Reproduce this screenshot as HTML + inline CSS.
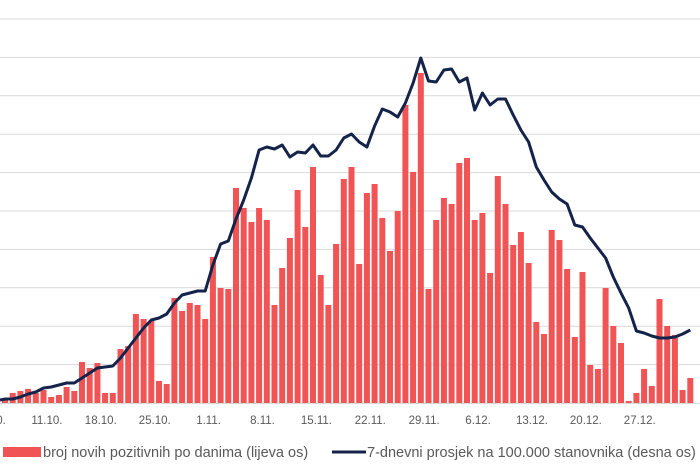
<!DOCTYPE html>
<html><head><meta charset="utf-8"><style>
html,body{margin:0;padding:0;background:#fff;width:700px;height:467px;overflow:hidden}
svg{display:block}
text{font-family:"Liberation Sans",sans-serif;fill:#595959}
</style></head><body>
<svg id="s" width="700" height="467" xmlns="http://www.w3.org/2000/svg">
<g id="grid"></g><g id="bars"></g>
<polyline id="ln" fill="none" stroke="#14234a" stroke-width="3" stroke-linejoin="round"/>
<g id="lab" font-size="11.5"></g>
<rect x="3" y="447" width="38" height="10" fill="#f05454"/>
<text x="43" y="457" font-size="14.5">broj novih pozitivnih po danima (lijeva os)</text>
<line x1="332" y1="452" x2="366" y2="452" stroke="#14234a" stroke-width="3"/>
<text x="367" y="457" font-size="14.5">7-dnevni prosjek na 100.000 stanovnika (desna os)</text>
</svg>
<script>
var NS="http://www.w3.org/2000/svg";
function el(t,a,p){var e=document.createElementNS(NS,t);for(var k in a)e.setAttribute(k,a[k]);document.getElementById(p).appendChild(e);return e;}
for(var k=0;k<10;k++){var y=19+38.4*k;el('line',{x1:0,x2:700,y1:y,y2:y,stroke:'#d9d9d9','stroke-width':1},'grid');}
el('line',{x1:0,x2:700,y1:403.5,y2:403.5,stroke:'#d9d9d9','stroke-width':1},'grid');
var b=[398,393,391,389,393,390,397,395,387,391,362,368,363,393,393,349,346,314,319,321,381,384,298,311,303,305,319,257,288,289,188,
208,222,208,220,305,268,238,190,227,167,275,305,244,179,167,264,193,184,218,251,211,105,172,73,289,220,198,204,163,158,
220,213,273,176,204,245,232,263,322,334,230,240,269,337,272,365,369,288,326,343,401,393,369,386,299,326,335,390,378];
for(var i=0;i<b.length;i++){var x=5+7.7*i;el('rect',{x:x-3,y:b[i],width:6,height:403-b[i],fill:'#f05454'},'bars');}
var l=[399,399,397,394,392,388,387,385,383,383,378,373,368,367,366,358,348,338,328,320,318,314,303,295,293,291,291,265,244,241,219,
200,178,150,147,149,145,157,152,153,145,156,156,150,138,134,142,147,126,109,112,117,103,83,58,81,82,70,69,82,78,
110,93,105,99,99,115,130,142,167,180,192,199,204,225,227,238,248,258,277,293,308,331,333,336,338,338,337,334,330];
var pts="0,400 ";for(var i=0;i<l.length;i++)pts+=(5+7.7*i).toFixed(1)+","+l[i]+" ";
document.getElementById('ln').setAttribute('points',pts);
var d=["4.10.","11.10.","18.10.","25.10.","1.11.","8.11.","15.11.","22.11.","29.11.","6.12.","13.12.","20.12.","27.12."];
for(var j=0;j<d.length;j++){var t=el('text',{x:-7+53.9*j,y:424,'text-anchor':'middle'},'lab');t.textContent=d[j];}
</script>
</body></html>
